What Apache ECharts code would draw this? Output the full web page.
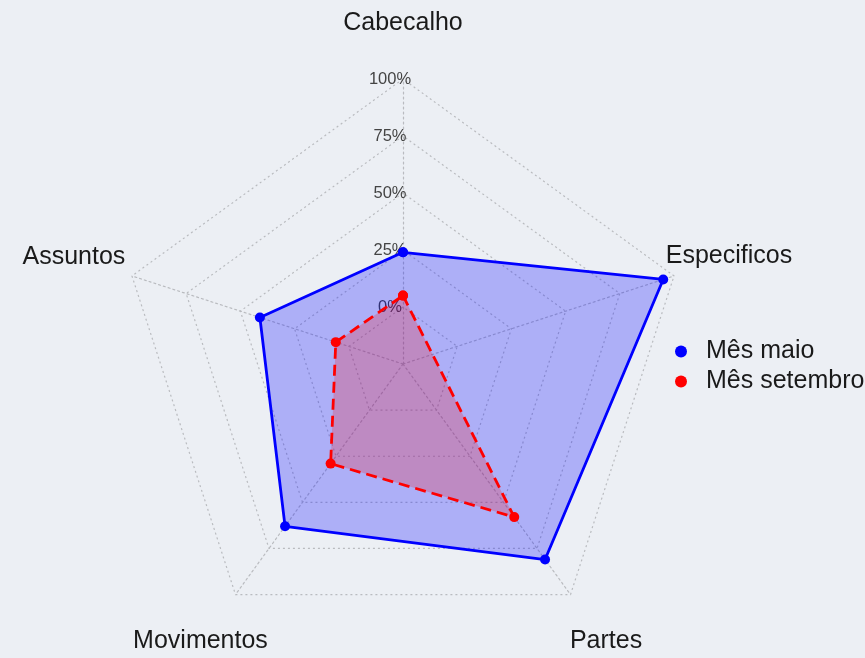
<!DOCTYPE html>
<html><head><meta charset="utf-8">
<script src="https://cdn.jsdelivr.net/npm/echarts@6/dist/echarts.min.js"></script>
<style>html,body{margin:0;padding:0;background:#ECEFF4}#c{width:865px;height:658px}</style>
</head><body><div id="c"></div>
<script>
// ---- data ----
const categories = ['Cabecalho', 'Especificos', 'Partes', 'Movimentos', 'Assuntos'];
const seriesNames = ['Mês maio', 'Mês setembro'];
const maio = [24, 95, 81, 63, 41];
const setembro = [5, null, 58, 29, 6];
const tickValues = [0, 25, 50, 75, 100];
const tickLabels = ['0%', '25%', '50%', '75%', '100%'];
const axisMin = -25, axisMax = 100;

// ---- layout / style ----
const CENTER = [403, 364], R = 285;
const FONT = 'Liberation Sans';
const gridColor = '#b9bbbf';
const nameGap = { Cabecalho: 56, Especificos: 63, Partes: 57, Movimentos: 57, Assuntos: 61 };
const namePad = { Especificos: [0, 10, 0, 0], Partes: [0, 0, 0, 4], Movimentos: [0, 3, 0, 0] };
// radar indicators run counter-clockwise; reference runs clockwise
const order = [0, 4, 3, 2, 1];

const indicator = order.map((i, k) => {
  const c = categories[i];
  const ind = {
    name: c, min: axisMin, max: axisMax,
    nameGap: nameGap[c],
    nameTextStyle: { align: 'center', verticalAlign: 'middle', padding: namePad[c] || 0 }
  };
  if (k === 0) {
    ind.axisLabel = {
      show: true, margin: 13, align: 'center', verticalAlign: 'middle',
      color: '#444', fontSize: 16.5, fontFamily: FONT,
      formatter: v => { const j = tickValues.indexOf(v); return j >= 0 ? tickLabels[j] : ''; }
    };
  }
  return ind;
});

// polygon points: [value, category position]; last point closes the ring
function ring(vals) {
  const d = categories.map((c, i) => [vals[i] == null ? '-' : vals[i], i]);
  d.push([vals[0], categories.length]);
  return d;
}

const chart = echarts.init(document.getElementById('c'), null, { renderer: 'canvas' });
chart.setOption({
  animation: false,
  backgroundColor: '#ECEFF4',
  radar: {
    center: CENTER, radius: R, startAngle: 90, shape: 'polygon', splitNumber: 5,
    indicator: indicator,
    axisName: { show: true, color: '#1a1a1a', fontSize: 25, fontFamily: FONT },
    axisLine: { show: true, lineStyle: { color: gridColor, type: [2, 3], width: 1.2 } },
    splitLine: { show: true, lineStyle: { color: gridColor, type: [2, 3], width: 1.2 } },
    splitArea: { show: false },
    axisTick: { show: false },
    axisLabel: { show: false }
  },
  polar: { center: CENTER, radius: R },
  angleAxis: {
    type: 'value', min: 0, max: categories.length, startAngle: 90, clockwise: true,
    axisLine: { show: false }, axisTick: { show: false }, axisLabel: { show: false }, splitLine: { show: false }
  },
  radiusAxis: {
    type: 'value', min: axisMin, max: axisMax,
    axisLine: { show: false }, axisTick: { show: false }, axisLabel: { show: false }, splitLine: { show: false }
  },
  legend: {
    data: seriesNames, orient: 'vertical', left: 670, top: 334,
    icon: 'circle', itemWidth: 40, itemHeight: 12, itemGap: 5,
    textStyle: { fontSize: 25, lineHeight: 22, color: '#1a1a1a', fontFamily: FONT }
  },
  series: [
    {
      type: 'line', coordinateSystem: 'polar', name: seriesNames[0], clip: false,
      data: ring(maio), symbol: 'circle', symbolSize: 10, showSymbol: true,
      lineStyle: { color: '#0000ff', width: 2.8 },
      itemStyle: { color: '#0000ff' },
      areaStyle: { color: 'rgba(0,0,255,0.38)', origin: 'start' },
      z: 3
    },
    {
      type: 'line', coordinateSystem: 'polar', name: seriesNames[1], clip: false,
      data: ring(setembro), connectNulls: true, symbol: 'circle', symbolSize: 10, showSymbol: true,
      lineStyle: { color: '#ff0000', width: 2.8, type: [11, 6] },
      itemStyle: { color: '#ff0000' },
      areaStyle: { color: 'rgba(255,0,0,0.3)', origin: 'start' },
      z: 4
    }
  ]
});
</script>
</body></html>
